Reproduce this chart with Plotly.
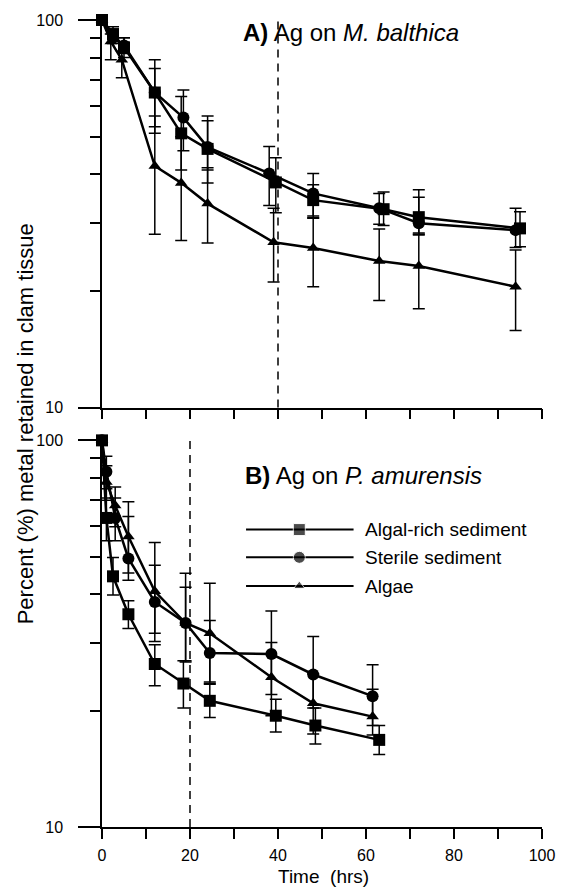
import plotly.graph_objects as go

# ---------------- data ----------------
# Panel A: Ag on M. balthica
a_sq_t = [0, 2.5, 5, 12, 18, 24, 39.5, 48, 64, 72, 95]
a_sq_v = [100, 92, 85, 65, 51, 46.5, 38.1, 34.3, 32.5, 31.0, 29.0]
a_sq_ep = [0, 4, 5, 14, 12.5, 10, 6, 3.3, 3.5, 5.5, 3]
a_sq_em = [0, 4, 5, 12, 10, 8.5, 6.3, 3.4, 3, 3, 3]

a_ci_t = [0, 2.5, 5, 12, 18.5, 24, 38, 48, 63, 72, 94]
a_ci_v = [100, 90, 86, 65, 56, 47, 40.2, 35.7, 32.7, 29.9, 28.7]
a_ci_ep = [0, 3, 4, 10, 10, 8, 7, 4.5, 3, 5, 4]
a_ci_em = [0, 3, 4, 14, 10, 6, 7, 4.5, 3, 2, 2.8]

a_tr_t = [0, 2, 4.5, 12, 18, 24, 39, 48, 63, 72, 94]
a_tr_v = [100, 88, 79, 42, 38, 33.6, 26.7, 25.8, 23.9, 23.2, 20.5]
a_tr_ep = [0, 4, 4, 14.5, 12, 8, 6, 5, 5, 5, 5]
a_tr_em = [0, 9, 8, 14, 11, 7, 5.6, 5.3, 5, 5.2, 4.7]

# Panel B: Ag on P. amurensis
b_sq_t = [0, 1, 2.5, 6, 12, 18.5, 24.5, 39.5, 48.5, 63]
b_sq_v = [100, 63, 44.5, 35.5, 26.4, 23.5, 21.2, 19.4, 18.3, 16.8]
b_sq_ep = [0, 8, 5.3, 3, 3.2, 3.4, 2.2, 2, 2, 1.5]
b_sq_em = [0, 8, 4.7, 2.9, 3.2, 3.2, 2, 1.8, 1.9, 1.4]

b_ci_t = [0, 1, 3, 6, 12, 19, 24.5, 38.5, 48, 61.5]
b_ci_v = [100, 83, 63, 49.5, 38.2, 33.7, 28.2, 28.0, 24.8, 21.8]
b_ci_ep = [0, 8, 8, 14, 9.3, 11.6, 6, 8.2, 6.3, 4.5]
b_ci_em = [0, 8, 8, 6, 8, 7, 4.7, 6, 4.5, 3.5]

b_tr_t = [0, 1, 3, 6, 12, 19, 24.5, 38.5, 48, 61.5]
b_tr_v = [100, 78, 67.8, 56.4, 40.7, 33.7, 31.7, 24.4, 20.9, 19.3]
b_tr_ep = [0, 8, 8, 13, 13.7, 8, 11, 5.6, 4, 3.4]
b_tr_em = [0, 8, 8, 11, 9, 6.8, 8, 5, 3.5, 2]

series_names = ["Algal-rich sediment", "Sterile sediment", "Algae"]
x_ticks = [0, 10, 20, 30, 40, 50, 60, 70, 80, 90, 100]
x_ticktext = ["0", "", "20", "", "40", "", "60", "", "80", "", "100"]
y_major = [10, 100]
y_major_text = ["10", "100"]
y_minor = [20, 30, 40, 50, 60, 70, 80, 90]

# ---------------- figure ----------------
FONT = "Liberation Sans, Arial, sans-serif"
symbols = ["square", "circle", "triangle-up"]
msizes = [12, 12, 11]

fig = go.Figure()

def add_series(t, v, ep, em, sym, size, xa, ya):
    fig.add_trace(go.Scatter(
        x=t, y=v, mode="lines+markers",
        line=dict(color="black", width=2.5),
        marker=dict(symbol=sym, size=size, color="black"),
        error_y=dict(type="data", symmetric=False, array=ep, arrayminus=em,
                     color="black", thickness=1.5, width=6),
        xaxis=xa, yaxis=ya, cliponaxis=False, showlegend=False))

panelA = [(a_sq_t, a_sq_v, a_sq_ep, a_sq_em), (a_ci_t, a_ci_v, a_ci_ep, a_ci_em),
          (a_tr_t, a_tr_v, a_tr_ep, a_tr_em)]
panelB = [(b_sq_t, b_sq_v, b_sq_ep, b_sq_em), (b_ci_t, b_ci_v, b_ci_ep, b_ci_em),
          (b_tr_t, b_tr_v, b_tr_ep, b_tr_em)]
for (t, v, ep, em), s, ms in zip(panelA, symbols, msizes):
    add_series(t, v, ep, em, s, ms, "x", "y")
for (t, v, ep, em), s, ms in zip(panelB, symbols, msizes):
    add_series(t, v, ep, em, s, ms, "x2", "y2")

# custom legend (pixel-like helper axes)
leg_y = [527, 555, 584]
leg_ms = [12, 12, 10]
for name, s, yy, ms in zip(series_names, symbols, leg_y, leg_ms):
    fig.add_trace(go.Scatter(
        x=[248, 302, 357], y=[yy, yy, yy], mode="lines+markers",
        line=dict(color="black", width=2),
        marker=dict(symbol=s, size=[0, ms, 0], color="black"),
        xaxis="x3", yaxis="y3", showlegend=False, cliponaxis=False, hoverinfo="skip"))
    fig.add_annotation(x=367, y=yy, xref="x3", yref="y3", text=name, showarrow=False,
                       xanchor="left", yanchor="middle",
                       font=dict(family=FONT, size=19, color="black"))

xcommon = dict(range=[0, 100], tickmode="array", tickvals=x_ticks, ticks="outside",
               ticklen=10, tickwidth=1.5, tickcolor="black", showline=True,
               linewidth=1.5, linecolor="black", showgrid=False, zeroline=False,
               tickfont=dict(family=FONT, size=16, color="black"))
ycommon = dict(type="log", range=[1, 2], tickmode="array", tickvals=y_major,
               ticktext=y_major_text, ticks="outside", ticklen=22, tickwidth=1.5,
               tickcolor="black", showline=True, linewidth=1.5, linecolor="black",
               showgrid=False, zeroline=False, ticklabelstandoff=12,
               tickfont=dict(family=FONT, size=16, color="black"),
               minor=dict(tickmode="array", tickvals=y_minor, ticks="outside",
                          ticklen=10, tickwidth=1.5, tickcolor="black", showgrid=False))

fig.update_layout(
    width=567, height=891, autosize=False,
    margin=dict(l=102, r=19, t=13, b=64),
    paper_bgcolor="white", plot_bgcolor="rgba(0,0,0,0)",
    showlegend=False,
    xaxis=dict(**xcommon, anchor="y", domain=[0, 1], showticklabels=False),
    yaxis=dict(**ycommon, anchor="x", domain=[0.5197, 1]),
    xaxis2=dict(**xcommon, anchor="y2", domain=[0, 1], ticktext=x_ticktext,
                ticklabelstandoff=3),
    yaxis2=dict(**ycommon, anchor="x2", domain=[0, 0.4791]),
    xaxis3=dict(domain=[0, 1], range=[102, 548], visible=False, anchor="y3"),
    yaxis3=dict(domain=[0, 1], range=[827, 13], visible=False, anchor="x3"),
)

# dashed reference lines
fig.add_shape(type="line", x0=40, x1=40, y0=0, y1=1, xref="x", yref="y domain",
              line=dict(color="black", width=1.5, dash="8px,6px"))
fig.add_shape(type="line", x0=20, x1=20, y0=0, y1=1, xref="x2", yref="y2 domain",
              line=dict(color="black", width=1.5, dash="8px,6px"))

# panel titles
fig.add_annotation(x=0.316, y=0.985, xref="paper", yref="paper", xanchor="left",
                   yanchor="middle", showarrow=False,
                   text="<b>A)</b> Ag on <i>M. balthica</i>",
                   font=dict(family=FONT, size=24, color="black"))
fig.add_annotation(x=0.320, y=0.436, xref="paper", yref="paper", xanchor="left",
                   yanchor="middle", showarrow=False,
                   text="<b>B)</b> Ag on <i>P. amurensis</i>",
                   font=dict(family=FONT, size=24, color="black"))

# axis titles
fig.add_annotation(x=-0.175, y=0.499, xref="paper", yref="paper", textangle=-90,
                   xanchor="center", yanchor="middle", showarrow=False,
                   text="Percent (%) metal retained in clam tissue",
                   font=dict(family=FONT, size=22, color="black"))
fig.add_annotation(x=0.5045, y=-0.0614, xref="paper", yref="paper",
                   xanchor="center", yanchor="middle", showarrow=False,
                   text="Time  (hrs)",
                   font=dict(family=FONT, size=19, color="black"))

fig.write_html("out.html")
